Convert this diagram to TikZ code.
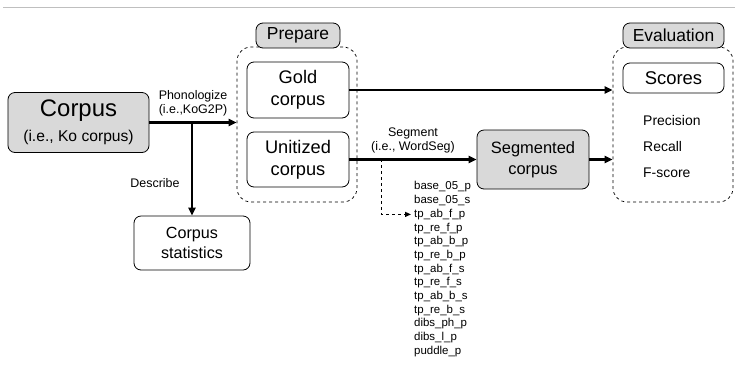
\documentclass[tikz,border=0pt]{standalone}
\usepackage{fontspec}
\setmainfont{Liberation Sans}
\usetikzlibrary{positioning, arrows.meta, calc}

\definecolor{boxgray}{HTML}{D9D9D9}
\definecolor{rulegray}{HTML}{BFBFBF}

\tikzset{
  box/.style={draw, rounded corners=7bp, line width=0.8bp, align=center, inner sep=0pt},
  graybox/.style={box, fill=boxgray},
  group/.style={draw, dashed, line width=0.7bp, rounded corners=14bp, inner sep=0pt},
  flow/.style={-{Triangle[length=8bp,width=7bp]}, line width=2.2bp},
  listitem/.style={anchor=west, inner sep=0pt, font=\fontsize{11.5}{13}\selectfont},
  flowlabel/.style={align=center, font=\fontsize{12.5}{14}\selectfont},
}

\begin{document}
\begin{tikzpicture}[x=1bp, y=-1bp]
    \useasboundingbox (0,0) rectangle (735,365);
    \draw[rulegray, line width=1bp] (3,7) -- (735,7);

    % Source corpus
    \node[graybox, minimum width=141bp, minimum height=60bp, font=\fontsize{15.7}{25}\selectfont] (corpus) at (78.5,122.5)
      {{\fontsize{24}{25}\selectfont Corpus}\\(i.e., Ko corpus)};
    \node[box, minimum width=116bp, minimum height=54bp, font=\fontsize{16.2}{20}\selectfont] (stats) at (192,243)
      {Corpus\\statistics};

    % Prepare stage
    \node[group, minimum width=120bp, minimum height=155bp] (prep) at (297,124.5) {};
    \node[graybox, minimum width=84bp, minimum height=25bp, font=\fontsize{17.5}{19}\selectfont] (preptag) at (298,35.5)
      {Prepare};
    \node[box, minimum width=102bp, minimum height=56bp, font=\fontsize{18.3}{22}\selectfont] (gold) at (298,90)
      {Gold\\corpus};
    \node[box, minimum width=102bp, minimum height=55bp, font=\fontsize{18.3}{22}\selectfont] (unit) at (298,159.5)
      {Unitized\\corpus};

    % Segmentation
    \node[graybox, minimum width=112bp, minimum height=59bp, font=\fontsize{16.5}{21}\selectfont] (seg) at (533,159.5)
      {Segmented\\corpus};

    % Evaluation stage
    \node[group, minimum width=120bp, minimum height=155bp] (eval) at (673,124.5) {};
    \node[graybox, minimum width=101bp, minimum height=25bp, font=\fontsize{17.5}{19}\selectfont] (evaltag) at (673.5,35.5)
      {Evaluation};
    \node[box, minimum width=101bp, minimum height=30bp, font=\fontsize{18.5}{20}\selectfont] (scores) at (673.5,78)
      {Scores};
    \node[listitem, font=\fontsize{14}{16}\selectfont] (prec) at (643,121) {Precision};
    \node[listitem, font=\fontsize{14}{16}\selectfont] (rec) at (643,147) {Recall};
    \node[listitem, font=\fontsize{14}{16}\selectfont] (fsc) at (643,173) {F-score};

    % Segmentation models
    \foreach \model [count=\i] in {base\_05\_p, base\_05\_s, tp\_ab\_f\_p, tp\_re\_f\_p,
        tp\_ab\_b\_p, tp\_re\_b\_p, tp\_ab\_f\_s, tp\_re\_f\_s, tp\_ab\_b\_s, tp\_re\_b\_s,
        dibs\_ph\_p, dibs\_l\_p, puddle\_p}
      \node[listitem] (m\i) at (414,173.3+13.7*\i) {\model};

    % Connectors
    \draw[flow] (corpus.east) -- (corpus.east -| prep.west)
      node[midway, above=2bp, flowlabel] {Phonologize\\(i.e.,KoG2P)};
    \coordinate (split) at (stats.north |- corpus.east);
    \draw[flow] (split) -- (stats.north)
      node[pos=0.65, left=8bp, flowlabel] {Describe};
    \draw[flow] (gold.east) -- (gold.east -| eval.west);
    \draw[flow] (unit.east) -- (seg.west)
      node[midway, above=2bp, flowlabel] {Segment\\(i.e., WordSeg)};
    \draw[flow] (seg.east) -- (seg.east -| eval.west);
    \coordinate (tap) at ($(unit.east)!0.25!(seg.west)$);
    \draw[dashed, line width=1.3bp, -{Triangle[length=6bp,width=5bp]}]
      (tap) |- ([xshift=-3bp]m3.west);
\end{tikzpicture}
\end{document}
